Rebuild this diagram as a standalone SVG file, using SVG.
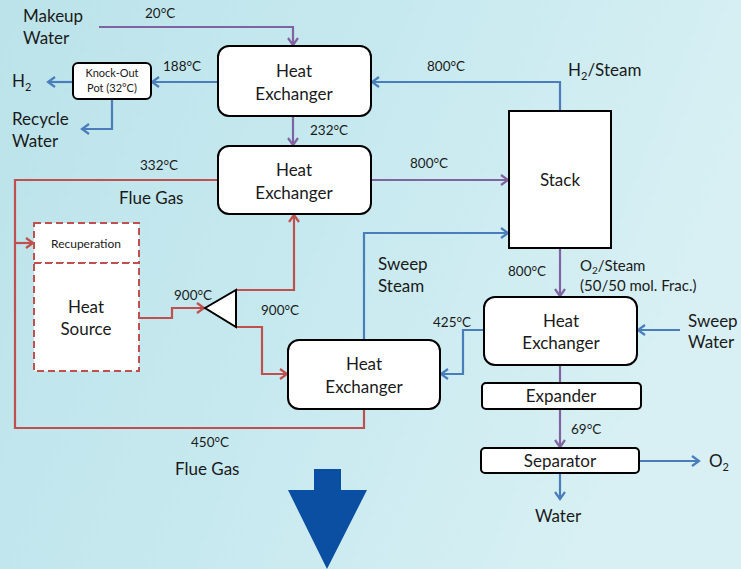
<svg xmlns="http://www.w3.org/2000/svg" width="741" height="569" viewBox="0 0 741 569">
<defs>
<linearGradient id="bg" x1="0" y1="0" x2="1" y2="0.3">
<stop offset="0" stop-color="#bce3ea"/>
<stop offset="0.5" stop-color="#c6e9ef"/>
<stop offset="1" stop-color="#d8f0f4"/>
</linearGradient>
<marker id="ap" markerUnits="userSpaceOnUse" markerWidth="14" markerHeight="14" viewBox="0 0 14 14" refX="12" refY="7" orient="auto"><path d="M5,2 L12,7 L5,12" fill="none" stroke="#8064a2" stroke-width="2.2"/></marker>
<marker id="ab" markerUnits="userSpaceOnUse" markerWidth="14" markerHeight="14" viewBox="0 0 14 14" refX="12" refY="7" orient="auto"><path d="M5,2 L12,7 L5,12" fill="none" stroke="#4a7ebb" stroke-width="2.2"/></marker>
<marker id="ar" markerUnits="userSpaceOnUse" markerWidth="14" markerHeight="14" viewBox="0 0 14 14" refX="12" refY="7" orient="auto"><path d="M5,2 L12,7 L5,12" fill="none" stroke="#c0504d" stroke-width="2.2"/></marker>
</defs>
<style>
.t{font-family:Lato,"Liberation Sans",sans-serif;fill:#1a1a1a}
.b{font-size:17px}
.s{font-size:13.5px}
.m{text-anchor:middle}
.box{fill:#fff;stroke:#000;stroke-width:2}
.dash{fill:#fff;stroke:#c0504d;stroke-width:2;stroke-dasharray:7 4}
.p{fill:none;stroke:#8064a2;stroke-width:2.2;marker-end:url(#ap)}
.pl{fill:none;stroke:#8064a2;stroke-width:2.2}
.bl{fill:none;stroke:#4a7ebb;stroke-width:2.2;marker-end:url(#ab)}
.bln{fill:none;stroke:#4a7ebb;stroke-width:2.2}
.r{fill:none;stroke:#c0504d;stroke-width:2.2;marker-end:url(#ar)}
.rn{fill:none;stroke:#c0504d;stroke-width:2.2}
</style>
<rect width="741" height="569" fill="url(#bg)"/>

<g id="connectors">
<path class="p" d="M99,27 H293 V45"/>
<path class="p" d="M293,117 V145"/>
<path class="p" d="M372,180 H508"/>
<path class="p" d="M560,249 V296"/>
<path class="pl" d="M560,366 V383"/>
<path class="p" d="M560,410 V447"/>
<path class="bl" d="M560,111 V82 H372"/>
<path class="bl" d="M218,82 H152"/>
<path class="bl" d="M73,82 H48"/>
<path class="bl" d="M112,100 V129 H82"/>
<path class="bl" d="M364,340 V233 H508"/>
<path class="bl" d="M484,330 H463 V374 H441"/>
<path class="bl" d="M680,330 H638"/>
<path class="bl" d="M640,461 H699"/>
<path class="bl" d="M560,474 V499"/>
<path class="rn" d="M218,180 H15 V428 H364 V410"/>
<path class="r" d="M15,243 H33"/>
<path class="r" d="M140,318 H172 V308 H204"/>
<path class="r" d="M237,290 H294 V215"/>
<path class="r" d="M237,327 H262 V374 H287"/>
</g>

<g id="hx1"><rect class="box" x="218" y="46" width="153" height="70" rx="11"/><text class="t b m" x="294" y="77">Heat</text><text class="t b m" x="294" y="100">Exchanger</text></g>
<g id="hx2"><rect class="box" x="218" y="146" width="153" height="68" rx="11"/><text class="t b m" x="294" y="176">Heat</text><text class="t b m" x="294" y="199">Exchanger</text></g>
<g id="stack"><rect class="box" x="509" y="111" width="102" height="137"/><text class="t b m" x="560" y="186">Stack</text></g>
<g id="hx3"><rect class="box" x="484" y="297" width="153" height="68" rx="11"/><text class="t b m" x="561" y="327">Heat</text><text class="t b m" x="561" y="349">Exchanger</text></g>
<g id="expander"><rect class="box" x="482" y="383" width="159" height="26" rx="4"/><text class="t b m" x="561" y="402">Expander</text></g>
<g id="separator"><rect class="box" x="481" y="448" width="158" height="25" rx="4"/><text class="t b m" x="560" y="467">Separator</text></g>
<g id="hx4"><rect class="box" x="288" y="340" width="152" height="69" rx="11"/><text class="t b m" x="364" y="370">Heat</text><text class="t b m" x="364" y="393">Exchanger</text></g>
<g id="knockout"><rect class="box" x="73" y="63" width="78" height="36" rx="5"/><text class="t m" style="font-size:11px" x="112" y="77">Knock-Out</text><text class="t m" style="font-size:11px" x="112" y="92">Pot (32°C)</text></g>
<g id="recuperation"><rect class="dash" x="34" y="223" width="105" height="40"/><text class="t m" style="font-size:12px" x="86" y="248">Recuperation</text></g>
<g id="heatsource"><rect class="dash" x="34" y="263" width="105" height="108"/><text class="t b m" x="86" y="313">Heat</text><text class="t b m" x="86" y="335">Source</text></g>
<g id="splitter"><polygon points="205,308 236,290 236,327" fill="#fff" stroke="#000" stroke-width="2"/></g>
<g id="bigarrow"><polygon points="314,469 341,469 341,490 367,490 327,569 288,490 314,490" fill="#0b4fa2"/></g>

<g id="labels">
<text class="t b" x="23" y="22">Makeup</text>
<text class="t b" x="23" y="44">Water</text>
<text class="t s" x="145" y="18">20°C</text>
<text class="t s" x="163" y="71">188°C</text>
<text class="t b" x="12" y="87">H<tspan font-size="11" dy="4">2</tspan></text>
<text class="t b" x="12" y="125">Recycle</text>
<text class="t b" x="12" y="147">Water</text>
<text class="t s" x="310" y="135">232°C</text>
<text class="t s" x="140" y="170">332°C</text>
<text class="t b" x="119" y="204">Flue Gas</text>
<text class="t s" x="427" y="71">800°C</text>
<text class="t b" x="568" y="76">H<tspan font-size="11" dy="4">2</tspan><tspan dy="-4">/Steam</tspan></text>
<text class="t s" x="410" y="168">800°C</text>
<text class="t s" x="174" y="300">900°C</text>
<text class="t s" x="261" y="315">900°C</text>
<text class="t s" x="191" y="447">450°C</text>
<text class="t b" x="175" y="475">Flue Gas</text>
<text class="t b" x="378" y="270">Sweep</text>
<text class="t b" x="378" y="292">Steam</text>
<text class="t s" x="508" y="276">800°C</text>
<text class="t" style="font-size:15px" x="580" y="271">O<tspan font-size="10" dy="3">2</tspan><tspan dy="-3">/Steam</tspan></text>
<text class="t" style="font-size:15px" x="580" y="291">(50/50 mol. Frac.)</text>
<text class="t s" x="433" y="327">425°C</text>
<text class="t b" x="688" y="327">Sweep</text>
<text class="t b" x="688" y="348">Water</text>
<text class="t s" x="571" y="434">69°C</text>
<text class="t b" x="709" y="467">O<tspan font-size="11" dy="4">2</tspan></text>
<text class="t b m" x="558" y="522">Water</text>
</g>
</svg>
